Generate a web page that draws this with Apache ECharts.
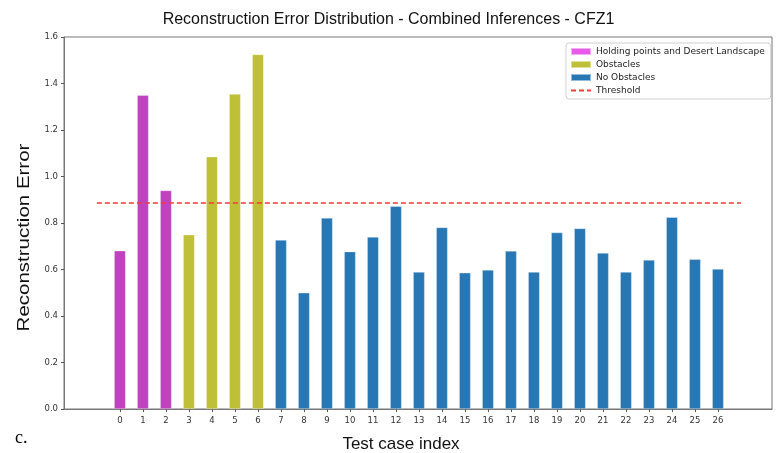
<!DOCTYPE html>
<html><head><meta charset="utf-8">
<script src="https://cdn.jsdelivr.net/npm/echarts@6/dist/echarts.min.js"></script>
<style>html,body{margin:0;padding:0;background:#fff}#c{width:777px;height:453px}</style>
</head><body><div id="c"></div>
<script>
var categories = ['0','1','2','3','4','5','6','7','8','9','10','11','12','13','14','15','16','17','18','19','20','21','22','23','24','25','26'];
var holdingIdx = [0,1,2];
var holdingVals = [0.681,1.350,0.940];
var obstacleIdx = [3,4,5,6];
var obstacleVals = [0.750,1.085,1.355,1.525];
var noObsIdx = [7,8,9,10,11,12,13,14,15,16,17,18,19,20,21,22,23,24,25,26];
var noObsVals = [0.727,0.500,0.822,0.677,0.740,0.872,0.589,0.781,0.586,0.598,0.680,0.589,0.759,0.777,0.671,0.589,0.641,0.825,0.644,0.602];
var threshold = 0.886;
var thresholdSpan = [-1, 27];

function pairs(idx, vals){ return idx.map(function(x,i){return [x, vals[i]];}); }
var tickVals = categories.map(function(c){return Number(c);});

var chart = echarts.init(document.getElementById('c'), null, {renderer:'canvas'});
var barCommon = {type:'bar', barWidth:11.5, barGap:'-100%', itemStyle:{borderColor:'rgba(255,255,255,0.5)', borderWidth:0.6}};
chart.setOption({
  animation:false,
  title:{text:'Reconstruction Error Distribution - Combined Inferences - CFZ1', left:'center', top:7,
    textStyle:{fontFamily:'Liberation Sans', fontSize:16, fontWeight:'normal', color:'#111'}},
  graphic:[
    {type:'text', left:15, top:429, style:{text:'c.', font:'18px "Liberation Serif"', fill:'#000'}},
    {type:'text', x:24.5, y:237.5, rotation:Math.PI/2, scaleX:1.28, scaleY:1.02,
      style:{text:'Reconstruction Error', font:'16px "Liberation Sans"', fill:'#111', align:'center', verticalAlign:'middle'}}
  ],
  legend:{orient:'vertical', left:566, top:43, itemWidth:20, itemHeight:7, itemGap:4,
    padding:[4,6,4,4], borderColor:'#d0d0d0', borderWidth:1, borderRadius:3,
    textStyle:{fontFamily:'DejaVu Sans', fontSize:9, color:'#222'},
    data:[
      {name:'Holding points and Desert Landscape', icon:'rect', itemStyle:{color:'#e85ae8'}},
      {name:'Obstacles', icon:'rect'},
      {name:'No Obstacles', icon:'rect'},
      {name:'Threshold', itemStyle:{opacity:0}}
    ]},
  grid:{left:64, right:5, top:37, bottom:44, show:true, borderColor:'#777', borderWidth:1, outerBoundsMode:'none', containLabel:false},
  xAxis:{type:'value', min:-2.43, max:28.35, name:'Test case index', nameLocation:'middle', nameGap:27,
    nameTextStyle:{fontFamily:'Liberation Sans', fontSize:17, color:'#111', padding:[0,34,0,0]},
    axisLine:{onZero:false, lineStyle:{color:'#777'}}, splitLine:{show:false},
    axisTick:{customValues:tickVals, length:3, lineStyle:{color:'#555'}},
    axisLabel:{customValues:tickVals, fontFamily:'DejaVu Sans', fontSize:8.5, color:'#333', margin:7}},
  yAxis:{type:'value', min:0, max:1.6, interval:0.2,
    axisLine:{show:true, onZero:false, lineStyle:{color:'#777'}}, splitLine:{show:false},
    axisTick:{show:true, length:3, lineStyle:{color:'#555'}},
    axisLabel:{fontFamily:'DejaVu Sans', fontSize:8.5, color:'#333', margin:6, formatter:function(v){return v.toFixed(1);}}},
  series:[
    Object.assign({}, barCommon, {name:'Holding points and Desert Landscape', data:pairs(holdingIdx, holdingVals), itemStyle:Object.assign({}, barCommon.itemStyle, {color:'#bf42bf'})}),
    Object.assign({}, barCommon, {name:'Obstacles', data:pairs(obstacleIdx, obstacleVals), itemStyle:Object.assign({}, barCommon.itemStyle, {color:'#bfbf38'})}),
    Object.assign({}, barCommon, {name:'No Obstacles', data:pairs(noObsIdx, noObsVals), itemStyle:Object.assign({}, barCommon.itemStyle, {color:'#2877b5'})}),
    {name:'Threshold', type:'line', symbol:'none', data:[[thresholdSpan[0], threshold],[thresholdSpan[1], threshold]],
      lineStyle:{color:'#f03c3c', width:1.5, type:[5,3], opacity:1}, itemStyle:{color:'#f03c3c'}, z:5}
  ]
});
</script></body></html>
